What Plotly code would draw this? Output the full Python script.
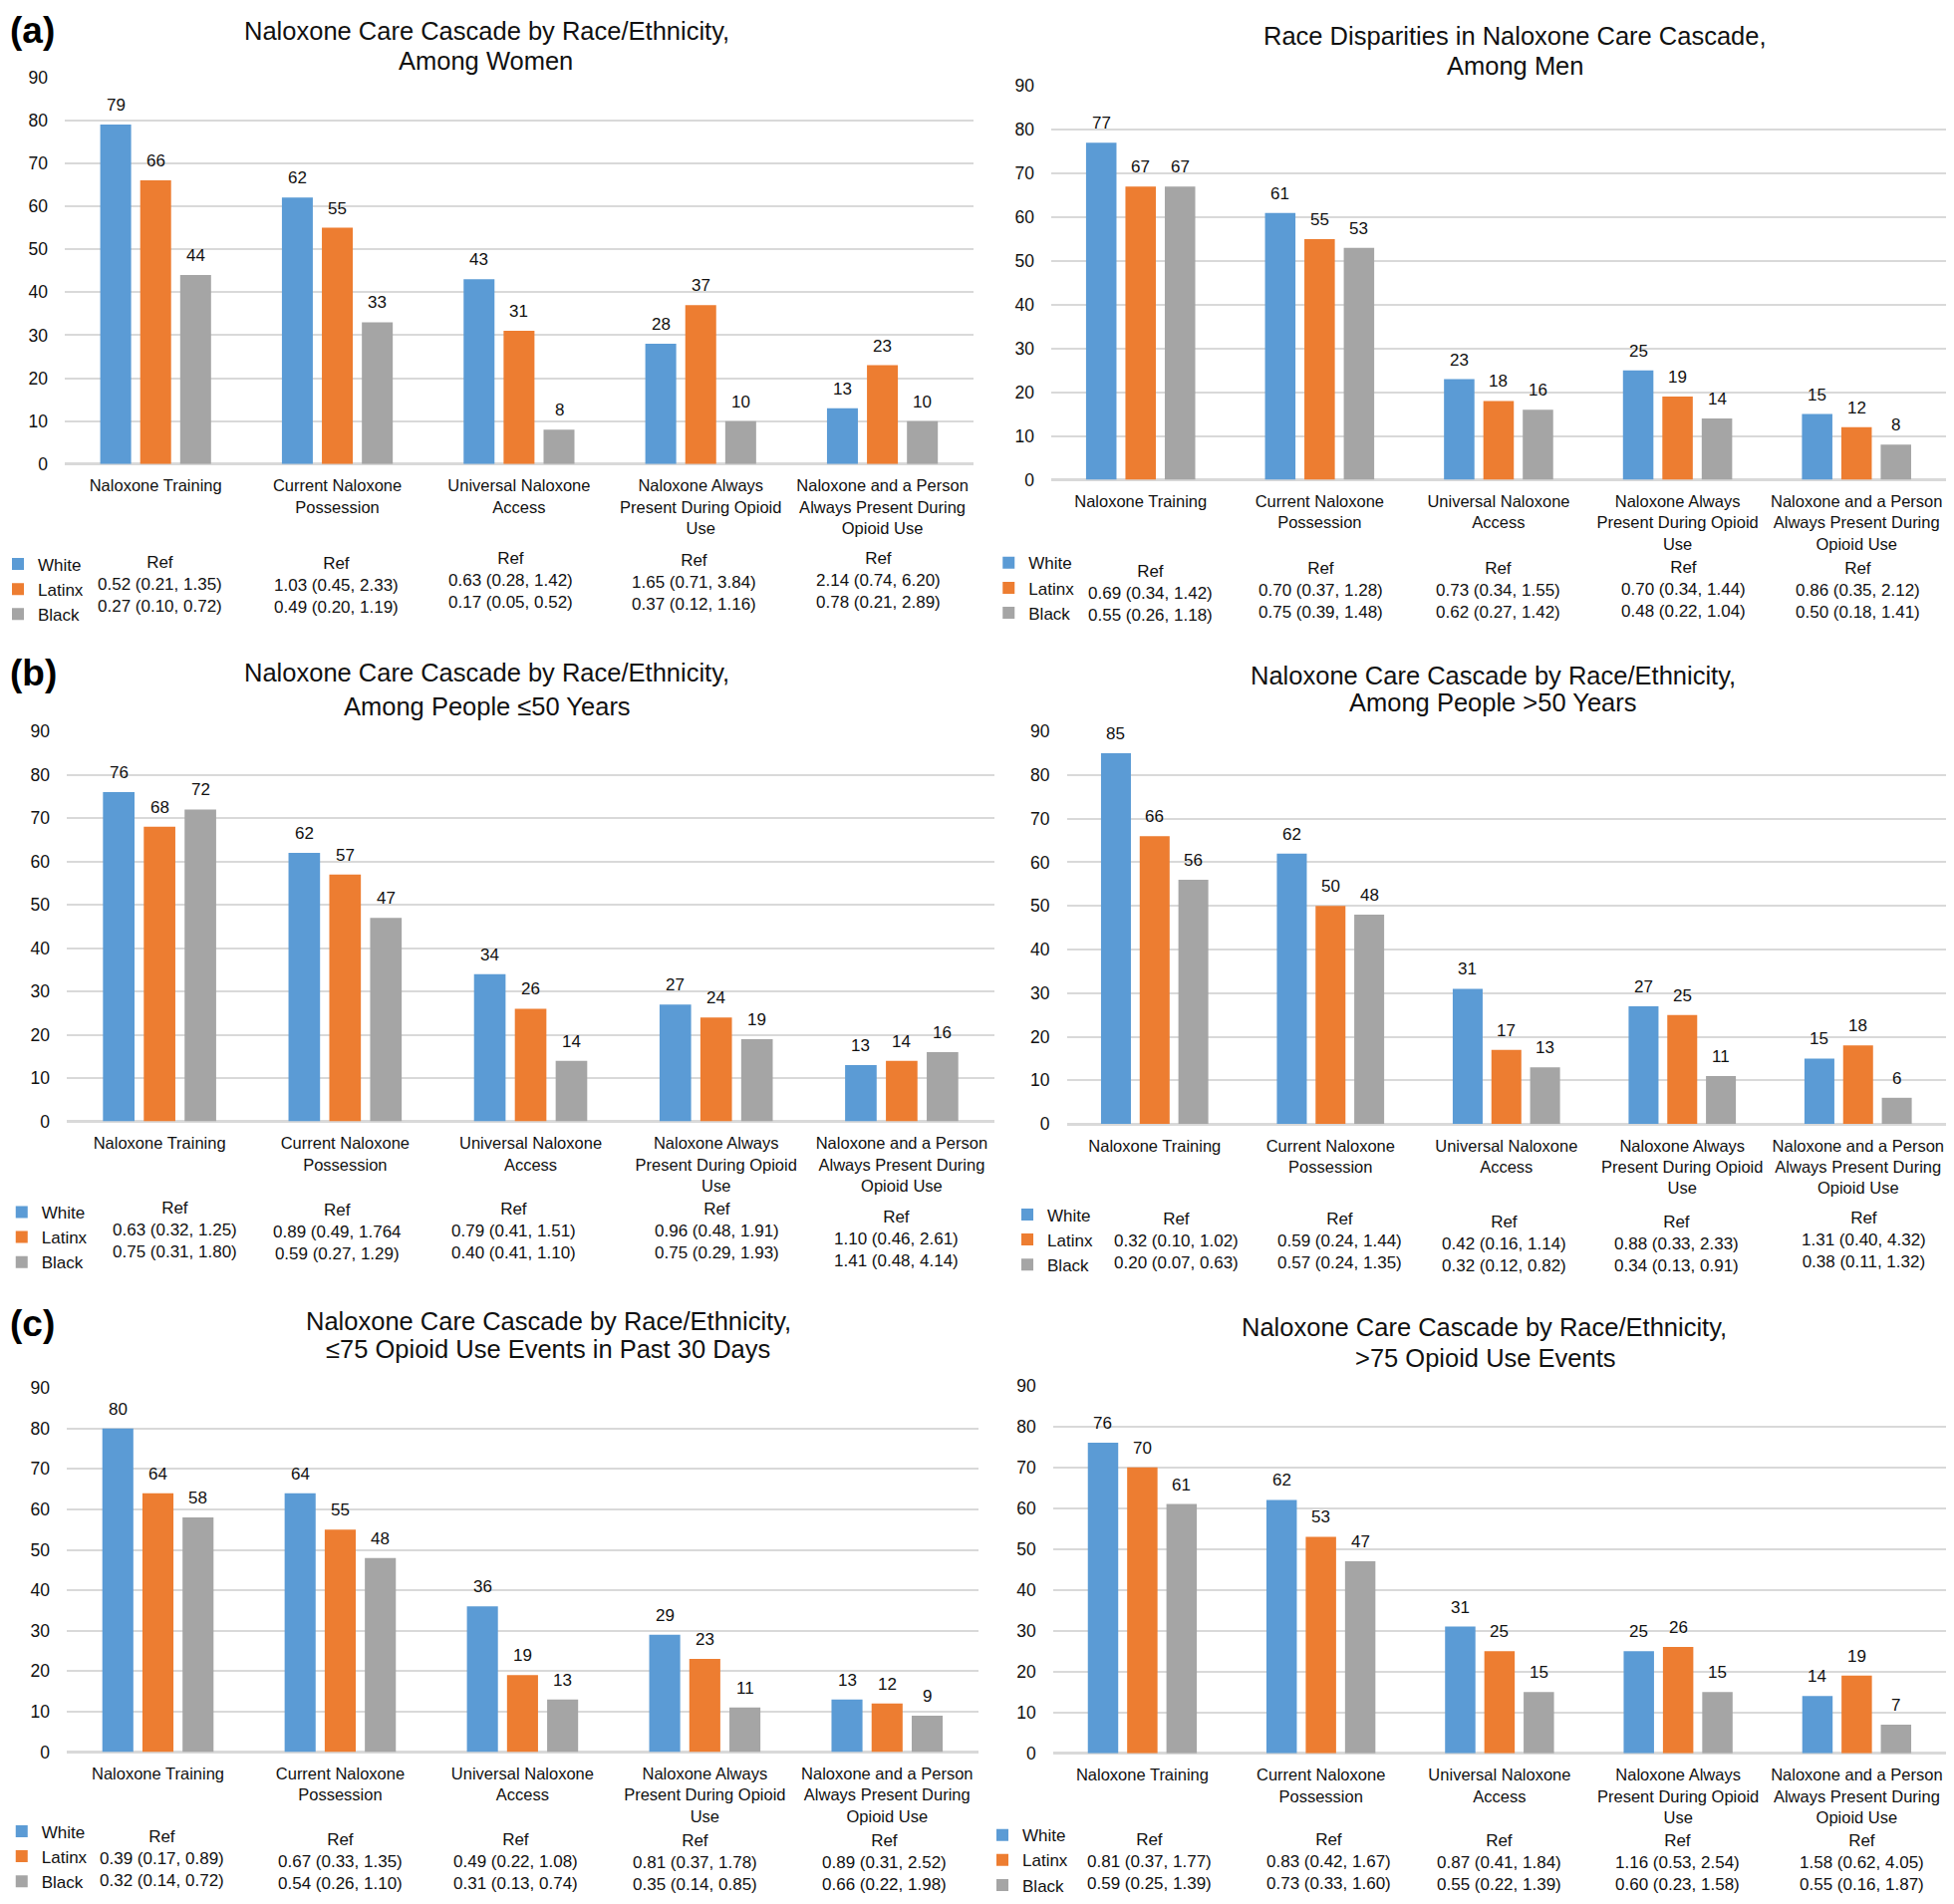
import plotly.graph_objects as go

# ---------------- data ----------------
categories = [
    "Naloxone Training",
    "Current Naloxone<br>Possession",
    "Universal Naloxone<br>Access",
    "Naloxone Always<br>Present During Opioid<br>Use",
    "Naloxone and a Person<br>Always Present During<br>Opioid Use",
]
groups = ["White", "Latinx", "Black"]
ref_label = "Ref"

women_white = [79, 62, 43, 28, 13]
women_latinx = [66, 55, 31, 37, 23]
women_black = [44, 33, 8, 10, 10]
women_or_latinx = ["0.52 (0.21, 1.35)", "1.03 (0.45, 2.33)", "0.63 (0.28, 1.42)", "1.65 (0.71, 3.84)", "2.14 (0.74, 6.20)"]
women_or_black = ["0.27 (0.10, 0.72)", "0.49 (0.20, 1.19)", "0.17 (0.05, 0.52)", "0.37 (0.12, 1.16)", "0.78 (0.21, 2.89)"]

men_white = [77, 61, 23, 25, 15]
men_latinx = [67, 55, 18, 19, 12]
men_black = [67, 53, 16, 14, 8]
men_or_latinx = ["0.69 (0.34, 1.42)", "0.70 (0.37, 1.28)", "0.73 (0.34, 1.55)", "0.70 (0.34, 1.44)", "0.86 (0.35, 2.12)"]
men_or_black = ["0.55 (0.26, 1.18)", "0.75 (0.39, 1.48)", "0.62 (0.27, 1.42)", "0.48 (0.22, 1.04)", "0.50 (0.18, 1.41)"]

young_white = [76, 62, 34, 27, 13]
young_latinx = [68, 57, 26, 24, 14]
young_black = [72, 47, 14, 19, 16]
young_or_latinx = ["0.63 (0.32, 1.25)", "0.89 (0.49, 1.764", "0.79 (0.41, 1.51)", "0.96 (0.48, 1.91)", "1.10 (0.46, 2.61)"]
young_or_black = ["0.75 (0.31, 1.80)", "0.59 (0.27, 1.29)", "0.40 (0.41, 1.10)", "0.75 (0.29, 1.93)", "1.41 (0.48, 4.14)"]

old_white = [85, 62, 31, 27, 15]
old_latinx = [66, 50, 17, 25, 18]
old_black = [56, 48, 13, 11, 6]
old_or_latinx = ["0.32 (0.10, 1.02)", "0.59 (0.24, 1.44)", "0.42 (0.16, 1.14)", "0.88 (0.33, 2.33)", "1.31 (0.40, 4.32)"]
old_or_black = ["0.20 (0.07, 0.63)", "0.57 (0.24, 1.35)", "0.32 (0.12, 0.82)", "0.34 (0.13, 0.91)", "0.38 (0.11, 1.32)"]

low_white = [80, 64, 36, 29, 13]
low_latinx = [64, 55, 19, 23, 12]
low_black = [58, 48, 13, 11, 9]
low_or_latinx = ["0.39 (0.17, 0.89)", "0.67 (0.33, 1.35)", "0.49 (0.22, 1.08)", "0.81 (0.37, 1.78)", "0.89 (0.31, 2.52)"]
low_or_black = ["0.32 (0.14, 0.72)", "0.54 (0.26, 1.10)", "0.31 (0.13, 0.74)", "0.35 (0.14, 0.85)", "0.66 (0.22, 1.98)"]

high_white = [76, 62, 31, 25, 14]
high_latinx = [70, 53, 25, 26, 19]
high_black = [61, 47, 15, 15, 7]
high_or_latinx = ["0.81 (0.37, 1.77)", "0.83 (0.42, 1.67)", "0.87 (0.41, 1.84)", "1.16 (0.53, 2.54)", "1.58 (0.62, 4.05)"]
high_or_black = ["0.59 (0.25, 1.39)", "0.73 (0.33, 1.60)", "0.55 (0.22, 1.39)", "0.60 (0.23, 1.58)", "0.55 (0.16, 1.87)"]

y_ticks = [0, 10, 20, 30, 40, 50, 60, 70, 80, 90]

# ---------------- style / layout ----------------
# the page has the browser's default 8px body margin around the plot div;
# keep the figure small enough that the page never overflows the window
OX, OY = 8, 8
WF, HF = 1961 - 2 * OX, 1911 - 2 * OY
S = 1961 / 1568  # positions below were measured on a 1568-wide view


def px(x):  # measured (1568 view) -> paper x
    return (x * S - OX) / WF


def py(y):  # measured (1528 view) -> paper y
    return 1 - (y * S - OY) / HF


colors = ["#5B9BD5", "#ED7D31", "#A5A5A5"]
FONT = "Liberation Sans, Arial, sans-serif"
TXT = "#111111"
GRID = "#D9D9D9"
BARGAP = 0.34
GROUPGAP = 0.227
PITCH = (1 - BARGAP) / 3
FS = 17

panels = [
    dict(t1="Naloxone Care Cascade by Race/Ethnicity,", t2="Among Women",
         vals=[women_white, women_latinx, women_black], orl=women_or_latinx, orb=women_or_black,
         x=(52, 781), y0=372.5, y90=62, tx=(391, 390), ty=(25, 49), lx=10, ly=453,
         tabx=[128, 270, 410, 557, 705], taby=[451, 452, 448, 449, 448], tag="(a)", tagy=None),
    dict(t1="Race Disparities in Naloxone Care Cascade,", t2="Among Men",
         vals=[men_white, men_latinx, men_black], orl=men_or_latinx, orb=men_or_black,
         x=(843.5, 1568), y0=385, y90=69, tx=(1216, 1216), ty=(29, 53), lx=805, ly=452,
         tabx=[923, 1060, 1202, 1351, 1491], taby=[458, 456, 456, 455, 456], tag=None),
    dict(t1="Naloxone Care Cascade by Race/Ethnicity,", t2="Among People ≤50 Years",
         vals=[young_white, young_latinx, young_black], orl=young_or_latinx, orb=young_or_black,
         x=(53.6, 798), y0=900, y90=587, tx=(391, 391), ty=(540, 567), lx=13, ly=973,
         tabx=[140, 271, 412, 575, 719], taby=[969, 971, 970, 970, 976], tag="(b)", tagy=540),
    dict(t1="Naloxone Care Cascade by Race/Ethnicity,", t2="Among People >50 Years",
         vals=[old_white, old_latinx, old_black], orl=old_or_latinx, orb=old_or_black,
         x=(856, 1568), y0=902, y90=587, tx=(1198, 1198), ty=(542, 564), lx=820, ly=975,
         tabx=[944, 1075, 1207, 1345, 1496], taby=[978, 978, 980, 980, 977], tag=None),
    dict(t1="Naloxone Care Cascade by Race/Ethnicity,", t2="≤75 Opioid Use Events in Past 30 Days",
         vals=[low_white, low_latinx, low_black], orl=low_or_latinx, orb=low_or_black,
         x=(53.6, 785), y0=1406, y90=1114, tx=(440, 440), ty=(1060, 1083), lx=13, ly=1470,
         tabx=[130, 273, 414, 558, 710], taby=[1474, 1476, 1476, 1477, 1477], tag="(c)", tagy=1062),
    dict(t1="Naloxone Care Cascade by Race/Ethnicity,", t2=">75 Opioid Use Events",
         vals=[high_white, high_latinx, high_black], orl=high_or_latinx, orb=high_or_black,
         x=(845, 1568), y0=1407, y90=1112, tx=(1191, 1192), ty=(1065, 1090), lx=800, ly=1473,
         tabx=[922, 1066, 1203, 1346, 1494], taby=[1476, 1476, 1477, 1477, 1477], tag=None),
]

fig = go.Figure()
annotations = []
layout_axes = {}

for p_i, p in enumerate(panels):
    n = p_i + 1
    xa = "x" if n == 1 else f"x{n}"
    ya = "y" if n == 1 else f"y{n}"
    lg = "legend" if n == 1 else f"legend{n}"
    for k, g in enumerate(groups):
        fig.add_trace(go.Bar(
            x=categories, y=p["vals"][k], name=g,
            marker=dict(color=colors[k], line=dict(width=0)),
            xaxis=xa, yaxis=ya, legend=lg, showlegend=True,
            hoverinfo="skip",
        ))
        for i, v in enumerate(p["vals"][k]):
            annotations.append(dict(
                x=i + (k - 1) * PITCH, y=v, xref=xa, yref=ya, text=str(v),
                showarrow=False, yanchor="bottom", yshift=8,
                font=dict(family=FONT, size=FS, color=TXT)))
    # table of odds ratios (first line = reference group)
    for i in range(len(categories)):
        annotations.append(dict(
            x=px(p["tabx"][i]), xref="paper", yref="paper",
            y=py(p["taby"][i]) + 11 / HF,
            yanchor="top", xanchor="center", showarrow=False, align="center",
            text=f"{ref_label}<br>{p['orl'][i]}<br>{p['orb'][i]}",
            font=dict(family=FONT, size=FS, color=TXT)))
    # two-line title
    for line, tx, ty in ((p["t1"], p["tx"][0], p["ty"][0]), (p["t2"], p["tx"][1], p["ty"][1])):
        annotations.append(dict(
            x=px(tx), y=py(ty), xref="paper", yref="paper",
            text=line, showarrow=False, xanchor="center", yanchor="middle",
            font=dict(family=FONT, size=25.5, color=TXT)))
    if p["tag"]:
        if p["tagy"] is None:   # top-left corner tag: keep inside the figure
            tag_pos = dict(y=1, yanchor="top")
        else:
            tag_pos = dict(y=py(p["tagy"]), yanchor="middle")
        annotations.append(dict(
            x=0, xref="paper", yref="paper",
            text=f"<b>{p['tag']}</b>", showarrow=False, xanchor="left",
            font=dict(family=FONT, size=37, color="#000000"), **tag_pos))

    xkey = "xaxis" if n == 1 else f"xaxis{n}"
    ykey = "yaxis" if n == 1 else f"yaxis{n}"
    layout_axes[xkey] = dict(
        domain=[max(px(p["x"][0]), 0), min(px(p["x"][1]), 1)], anchor=ya,
        type="category", categoryorder="array", categoryarray=categories,
        range=[-0.5, len(categories) - 0.5],
        showgrid=False, showline=False, zeroline=False, ticks="",
        ticklabelstandoff=10, tickangle=0,
        tickfont=dict(family=FONT, size=16.5, color=TXT), fixedrange=True)
    layout_axes[ykey] = dict(
        domain=[py(p["y0"]), py(p["y90"])], anchor=xa,
        range=[0, 90], tickvals=y_ticks, showgrid=True, gridcolor=GRID, gridwidth=2,
        zeroline=True, zerolinecolor=GRID, zerolinewidth=2.5, showline=False,
        ticks="", ticklabelstandoff=16,
        tickfont=dict(family=FONT, size=17.5, color=TXT), fixedrange=True)
    # legend: square sits ~14.5px right of the box's left edge; middle item centred
    layout_axes[lg] = dict(
        x=(p["lx"] * S - 14.5 - OX) / WF, y=py(p["ly"] + 20), xanchor="left", yanchor="middle",
        orientation="v", itemwidth=30, traceorder="normal",
        font=dict(family=FONT, size=FS, color=TXT), bgcolor="rgba(0,0,0,0)",
        itemclick=False, itemdoubleclick=False)

fig.update_layout(
    width=WF, height=HF, autosize=False,
    margin=dict(l=0, r=0, t=0, b=0, autoexpand=False),
    paper_bgcolor="white", plot_bgcolor="white",
    barmode="group", bargap=BARGAP, bargroupgap=GROUPGAP,
    annotations=annotations,
    **layout_axes,
)

fig.write_html("out.html")
